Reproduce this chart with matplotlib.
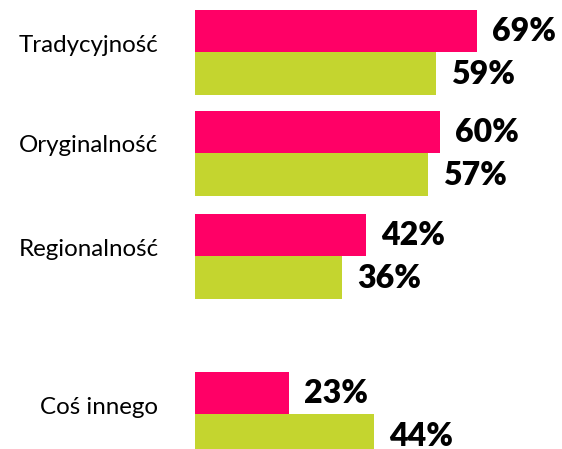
import matplotlib
matplotlib.use("Agg")
import matplotlib.pyplot as plt

### DATA

categories = ["Tradycyjność", "Oryginalność", "Regionalność", "Coś innego"]
series_a = [69, 60, 42, 23]   # pink
series_b = [59, 57, 36, 44]   # green

### LAYOUT (pixel units, image is 562x449)

W, H = 562, 449
x0_px = 194.5          # where bars start
px_per_pct = 4.09
group_y = [52, 153, 256, 414]   # boundary between pink and green bar
bar_h = 42.5

pink = "#FF0066"
green = "#C4D52F"

plt.rcParams["font.family"] = ["Lato", "DejaVu Sans"]

fig = plt.figure(figsize=(W / 100, H / 100), dpi=100)
ax = fig.add_axes([0, 0, 1, 1])
ax.set_xlim(-x0_px / px_per_pct, (W - x0_px) / px_per_pct)
ax.set_ylim(H, 0)
ax.axis("off")

ya = [g - bar_h / 2 for g in group_y]
yb = [g + bar_h / 2 for g in group_y]

ax.barh(ya, series_a, height=bar_h, left=0, color=pink, linewidth=0)
ax.barh(yb, series_b, height=bar_h, left=0, color=green, linewidth=0)

# value labels
for vals, ys in ((series_a, ya), (series_b, yb)):
    for v, y in zip(vals, ys):
        ax.annotate(f"{v}%", xy=(v, y + 1), xytext=(15 * 0.72, 0),
                    textcoords="offset points", ha="left", va="center",
                    fontsize=23, fontweight="heavy", color="black")

# category labels
for cat, g in zip(categories, group_y):
    ax.annotate(cat, xy=(0, g - 7), xytext=(-36 * 0.72, 0),
                textcoords="offset points", ha="right", va="center",
                fontsize=17.4, color="black")

fig.savefig("out.png", dpi=100)
